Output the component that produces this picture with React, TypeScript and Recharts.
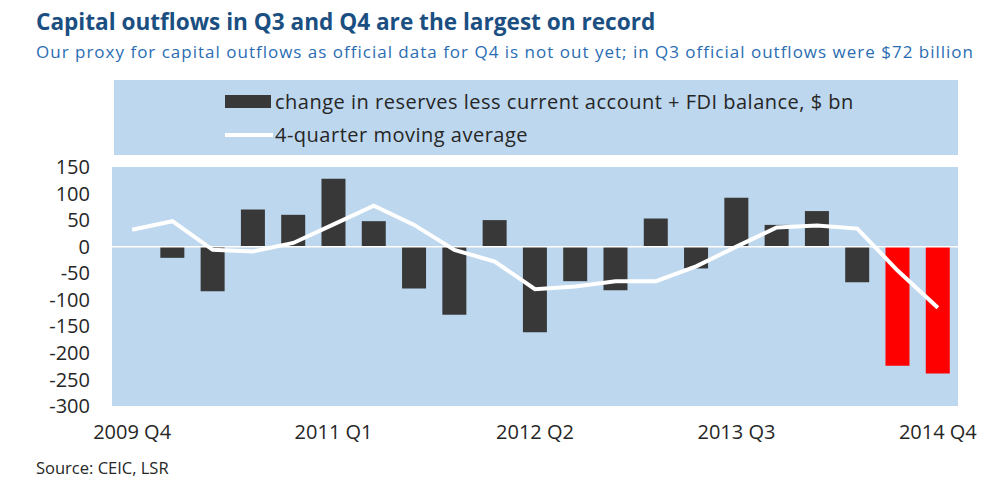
import { ComposedChart, Bar, Line, XAxis, YAxis, CartesianGrid, ReferenceLine, Cell } from 'recharts';

// quarters from 2009 Q4 to 2014 Q4
const quarters = [
  '2009 Q4', '2010 Q1', '2010 Q2', '2010 Q3', '2010 Q4',
  '2011 Q1', '2011 Q2', '2011 Q3', '2011 Q4', '2012 Q1',
  '2012 Q2', '2012 Q3', '2012 Q4', '2013 Q1', '2013 Q2',
  '2013 Q3', '2013 Q4', '2014 Q1', '2014 Q2', '2014 Q3', '2014 Q4',
];

// change in reserves less current account + FDI balance, $ bn
const flows = [
  null, -21, -84, 70, 60,
  128, 48, -79, -128, 50,
  -161, -65, -82, 53, -41,
  92, 41, 67, -67, -224, -239,
];

// 4-quarter moving average
const movingAvg = [
  32, 48, -6, -9, 7,
  42, 77, 41, -6, -28,
  -80, -75, -65, -65, -37,
  0, 36, 40, 34, -45, -115,
];

const yTicks = [150, 100, 50, 0, -50, -100, -150, -200, -250, -300];
const highlighted = ['2014 Q3', '2014 Q4'];

const data = quarters.map((q, i) => ({ q, flows: flows[i], avg: movingAvg[i] }));

const FONT = "'Open Sans', 'DejaVu Sans', sans-serif";

function LegendBox() {
  return (
    <div style={{ position: 'absolute', left: 114, top: 80, background: '#bdd7ee', width: 844, height: 75, fontSize: 20, letterSpacing: 0.5, color: '#262626' }}>
      <div style={{ position: 'absolute', left: 111, top: 8, display: 'flex', alignItems: 'center', whiteSpace: 'nowrap' }}>
        <span style={{ display: 'inline-block', width: 46, height: 13, background: '#383838', marginRight: 4 }} />
        <span>change in reserves less current account + FDI balance, $ bn</span>
      </div>
      <div style={{ position: 'absolute', left: 111, top: 41, display: 'flex', alignItems: 'center', whiteSpace: 'nowrap' }}>
        <span style={{ display: 'inline-block', width: 48, height: 4, background: '#ffffff', marginRight: 2 }} />
        <span>4-quarter moving average</span>
      </div>
    </div>
  );
}

export default function App() {
  return (
    <div style={{ position: 'fixed', top: 0, left: 0, width: 1007, height: 499, background: '#fff', fontFamily: FONT }}>
      <div style={{ position: 'absolute', left: 36, top: 6, fontSize: 22.6, fontWeight: 700, color: '#1b4f82', whiteSpace: 'nowrap' }}>
        Capital outflows in Q3 and Q4 are the largest on record
      </div>
      <div style={{ position: 'absolute', left: 36, top: 40, fontSize: 17, letterSpacing: 1.0, color: '#2a6db3', whiteSpace: 'nowrap' }}>
        Our proxy for capital outflows as official data for Q4 is not out yet; in Q3 official outflows were $72 billion
      </div>
      <LegendBox />
      <div style={{ position: 'absolute', left: 0, top: 0 }}>
        <ComposedChart
          width={1007}
          height={499}
          data={data}
          margin={{ top: 167, right: 49, bottom: 63, left: 12 }}
          barCategoryGap="20%"
        >
          <CartesianGrid fill="#bdd7ee" horizontal={false} vertical={false} />
          <XAxis
            dataKey="q"
            interval={4}
            axisLine={false}
            tickLine={false}
            height={30}
            tick={{ fill: '#262626', fontSize: 20, fontFamily: FONT }}
            tickMargin={13}
          />
          <YAxis
            domain={[-300, 150]}
            ticks={yTicks}
            interval={0}
            axisLine={false}
            tickLine={false}
            width={100}
            tick={{ fill: '#262626', fontSize: 20, fontFamily: FONT }}
            tickMargin={16}
          />
          <ReferenceLine y={0} stroke="#ffffff" strokeWidth={1.5} />
          <Bar dataKey="flows" isAnimationActive={false}>
            {data.map((d) => (
              <Cell key={d.q} fill={highlighted.includes(d.q) ? '#ff0000' : '#383838'} />
            ))}
          </Bar>
          <Line
            dataKey="avg"
            type="linear"
            stroke="#ffffff"
            strokeWidth={4}
            dot={false}
            isAnimationActive={false}
          />
        </ComposedChart>
      </div>
      <div style={{ position: 'absolute', left: 36, top: 456, fontSize: 16.5, color: '#262626' }}>Source: CEIC, LSR</div>
    </div>
  );
}
